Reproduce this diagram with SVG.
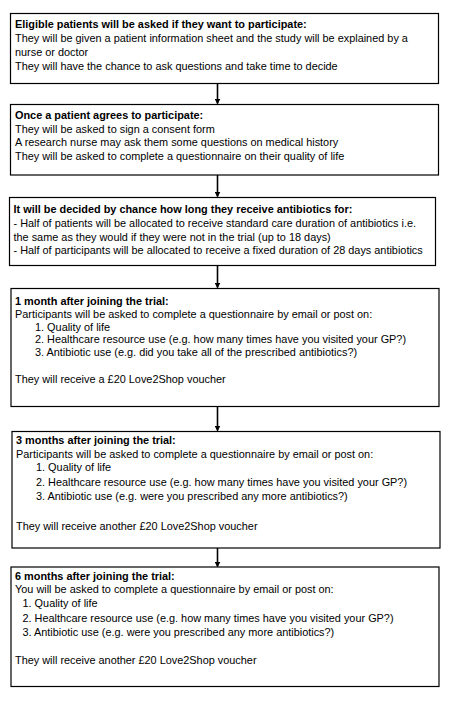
<svg xmlns="http://www.w3.org/2000/svg" width="449" height="701" viewBox="0 0 449 701">
<defs>
<marker id="ah" markerWidth="6" markerHeight="6" refX="5" refY="3" orient="auto" markerUnits="userSpaceOnUse">
<path d="M0,0 L6,3 L0,6 Z" fill="#000"/>
</marker>
<style>
.box{fill:#fff;stroke:#000;stroke-width:1.2}
text{font-family:"Liberation Sans",Arial,sans-serif;font-size:10.9px;fill:#000}
.b{font-weight:bold}
.c{stroke:#000;stroke-width:1.6;fill:none}
</style>
</defs>
<rect width="449" height="701" fill="#fff"/>
<g id="connectors">
<line class="c" x1="217.5" y1="83.5" x2="217.5" y2="103.5" marker-end="url(#ah)"/>
<line class="c" x1="217.5" y1="175" x2="217.5" y2="196.5" marker-end="url(#ah)"/>
<line class="c" x1="217.5" y1="265.5" x2="217.5" y2="287.5" marker-end="url(#ah)"/>
<line class="c" x1="217.5" y1="406.5" x2="217.5" y2="430.5" marker-end="url(#ah)"/>
<line class="c" x1="217.5" y1="548" x2="217.5" y2="566.5" marker-end="url(#ah)"/>
</g>
<g id="node1">
<rect class="box" x="10.5" y="13.5" width="428" height="70"/>
<text class="b" x="15" y="28">Eligible patients will be asked if they want to participate:</text>
<text x="15" y="42.3">They will be given a patient information sheet and the study will be explained by a</text>
<text x="15" y="55.7">nurse or doctor</text>
<text x="15" y="69.5">They will have the chance to ask questions and take time to decide</text>
</g>
<g id="node2">
<rect class="box" x="10.5" y="104.5" width="428" height="70.5"/>
<text class="b" x="15" y="119">Once a patient agrees to participate:</text>
<text x="15" y="133">They will be asked to sign a consent form</text>
<text x="15" y="146.3">A research nurse may ask them some questions on medical history</text>
<text x="15" y="159.7">They will be asked to complete a questionnaire on their quality of life</text>
</g>
<g id="node3">
<rect class="box" x="9.5" y="197.5" width="426" height="68"/>
<text class="b" x="13.5" y="213">It will be decided by chance how long they receive antibiotics for:</text>
<text x="13.5" y="227">- Half of patients will be allocated to receive standard care duration of antibiotics i.e.</text>
<text x="13.5" y="240.5">the same as they would if they were not in the trial (up to 18 days)</text>
<text x="13.5" y="254">- Half of participants will be allocated to receive a fixed duration of 28 days antibiotics</text>
</g>
<g id="node4">
<rect class="box" x="11" y="288.5" width="428" height="118"/>
<text class="b" x="15" y="304.5">1 month after joining the trial:</text>
<text x="15" y="318">Participants will be asked to complete a questionnaire by email or post on:</text>
<text x="35" y="330.7">1. Quality of life</text>
<text x="35" y="343.3">2. Healthcare resource use (e.g. how many times have you visited your GP?)</text>
<text x="35" y="356.3">3. Antibiotic use (e.g. did you take all of the prescribed antibiotics?)</text>
<text x="15" y="383">They will receive a £20 Love2Shop voucher</text>
</g>
<g id="node5">
<rect class="box" x="12" y="431.5" width="428" height="116.5"/>
<text class="b" x="16" y="443.7">3 months after joining the trial:</text>
<text x="16" y="458">Participants will be asked to complete a questionnaire by email or post on:</text>
<text x="36" y="471">1. Quality of life</text>
<text x="36" y="486">2. Healthcare resource use (e.g. how many times have you visited your GP?)</text>
<text x="36" y="500">3. Antibiotic use (e.g. were you prescribed any more antibiotics?)</text>
<text x="16" y="530">They will receive another £20 Love2Shop voucher</text>
</g>
<g id="node6">
<rect class="box" x="11" y="567" width="428" height="119.5"/>
<text class="b" x="15" y="579.7">6 months after joining the trial:</text>
<text x="15" y="593">You will be asked to complete a questionnaire by email or post on:</text>
<text x="22.5" y="607">1. Quality of life</text>
<text x="22.5" y="622">2. Healthcare resource use (e.g. how many times have you visited your GP?)</text>
<text x="22.5" y="636">3. Antibiotic use (e.g. were you prescribed any more antibiotics?)</text>
<text x="15" y="664">They will receive another £20 Love2Shop voucher</text>
</g>
</svg>
